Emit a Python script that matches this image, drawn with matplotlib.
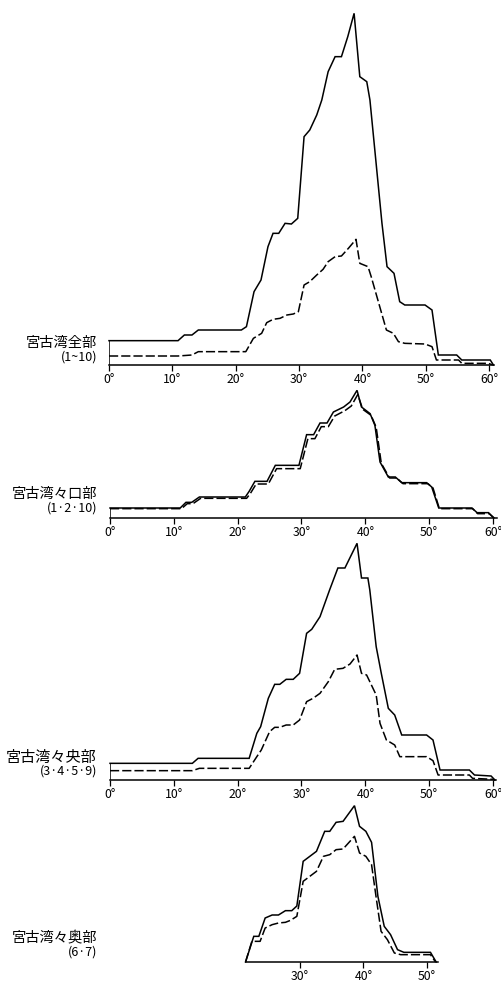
import matplotlib
matplotlib.use("Agg")
import matplotlib.pyplot as plt

plt.rcParams["font.family"] = ["Noto Sans CJK JP", "DejaVu Sans"]

W, H = 502, 981
PX_PER_UNIT = 10 / 3  # vertical scale shared by all four panels

# --- 宮古湾全部 (1~10)
p1_solid_x = [0, 10.9, 11.9, 13.1, 14.1, 20.9, 21.7, 22.9, 24.0, 25.1, 25.9, 26.8, 27.8, 28.8,
              29.8, 30.8, 31.7, 32.8, 33.6, 34.6, 35.7, 36.7, 37.7, 38.7, 39.6, 40.7, 41.2,
              43.1, 43.9, 45.0, 45.9, 46.7, 49.9, 51.0, 52.0, 54.9, 55.7, 60.2, 60.7]
p1_solid_y = [7.3, 7.3, 9.0, 9.0, 10.5, 10.5, 11.5, 22.0, 25.5, 35.5, 39.5, 39.5, 42.5, 42.3,
              44.0, 68.5, 70.5, 75.0, 79.5, 88.0, 92.5, 92.5, 98.5, 105.5, 86.5, 85.0, 79.5,
              42.5, 29.5, 27.5, 19.0, 18.0, 18.0, 16.5, 3.0, 3.0, 1.5, 1.5, 0]
p1_dash_x = [0, 10.9, 13.1, 14.1, 21.6, 22.8, 24.1, 24.9, 25.9, 27.0, 28.1, 29.1, 29.9, 30.8,
             31.7, 32.8, 33.8, 34.6, 35.7, 36.7, 37.8, 39.0, 39.6, 40.9, 41.4, 43.8, 44.9,
             45.7, 46.7, 49.9, 51.0, 51.7, 55.2, 55.7, 59.9, 60.6]
p1_dash_y = [2.7, 2.7, 3.0, 4.0, 4.0, 8.0, 9.5, 12.7, 13.7, 14.0, 15.0, 15.3, 16.0, 24.0,
             25.0, 27.0, 28.7, 31.0, 32.5, 32.7, 35.0, 37.7, 30.5, 29.5, 26.5, 10.5, 9.5,
             7.0, 6.5, 6.3, 5.5, 1.5, 1.5, 0.5, 0.5, 0]

# --- 宮古湾々口部 (1·2·10)
p2_solid_x = [0, 11.0, 11.9, 12.8, 14.0, 21.2, 21.8, 22.7, 24.6, 25.9, 29.6, 30.8, 31.9, 32.9,
              34.0, 35.0, 36.6, 37.6, 38.7, 39.4, 40.75, 41.5, 42.3, 43.6, 44.7, 45.7, 49.6,
              50.4, 51.5, 56.7, 57.5, 59.3, 60.1]
p2_solid_y = [3.0, 3.0, 4.7, 4.7, 6.3, 6.3, 8.0, 11.0, 11.0, 15.8, 15.8, 25.0, 25.0, 28.5,
              28.5, 31.8, 33.3, 34.8, 38.3, 33.3, 31.3, 27.8, 16.8, 12.3, 12.3, 10.6, 10.6,
              9.3, 3.0, 3.0, 1.6, 1.6, 0]
p2_dash_x = [0, 11.2, 12.1, 13.0, 14.2, 21.4, 22.0, 22.9, 24.8, 26.1, 29.8, 31.0, 32.1, 33.1,
             34.2, 35.2, 36.8, 37.8, 38.8, 39.6, 40.9, 41.7, 42.5, 43.8, 44.9, 45.9, 49.8,
             50.6, 51.6, 56.8, 57.6, 59.4, 60.2]
p2_dash_y = [2.8, 2.8, 4.3, 4.3, 5.9, 5.9, 7.4, 10.2, 10.2, 14.8, 14.8, 23.8, 23.8, 27.4,
             27.4, 30.6, 32.2, 33.6, 37.0, 32.6, 30.8, 27.2, 16.4, 12.0, 12.0, 10.3, 10.3,
             9.0, 2.8, 2.8, 1.3, 1.3, 0]

# --- 宮古湾々央部 (3·4·5·9)
p3_solid_x = [0, 12.9, 13.8, 21.8, 23.0, 23.6, 24.8, 25.8, 26.6, 27.6, 28.7, 29.7, 30.8, 31.6,
              32.9, 34.4, 35.7, 36.8, 38.7, 39.4, 40.4, 40.7, 41.7, 42.5, 43.6, 44.6, 45.7,
              49.6, 50.6, 51.7, 56.3, 57.1, 59.7, 60.3]
p3_solid_y = [5.0, 5.0, 6.5, 6.5, 14.0, 16.0, 24.5, 28.7, 28.7, 30.2, 30.2, 32.0, 44.0, 45.2,
              49.0, 57.0, 63.6, 63.6, 71.0, 60.6, 60.6, 57.0, 40.0, 32.0, 21.5, 19.5, 13.5,
              13.5, 12.0, 3.0, 3.0, 1.5, 1.2, 0]
p3_dash_x = [0, 12.9, 14.0, 21.8, 23.0, 23.7, 25.0, 25.8, 26.6, 27.6, 28.7, 29.7, 30.8, 31.8,
             32.9, 34.2, 35.2, 36.5, 37.6, 38.7, 39.4, 40.2, 41.7, 42.3, 43.3, 44.6, 45.4,
             49.6, 50.6, 51.4, 56.3, 56.8, 60.0, 60.3]
p3_dash_y = [2.8, 2.8, 3.5, 3.5, 7.0, 9.0, 14.5, 15.8, 15.8, 16.5, 16.5, 18.0, 23.5, 24.5,
             26.0, 29.5, 33.2, 33.5, 34.8, 37.5, 32.0, 31.5, 25.5, 17.0, 12.0, 10.5, 7.0,
             7.0, 5.8, 1.5, 1.5, 0.5, 0.2, 0]

# --- 宮古湾々奥部 (6·7)
p4_solid_x = [21.4, 22.7, 23.5, 24.5, 25.6, 26.6, 27.7, 28.7, 29.5, 30.5, 32.6, 33.9, 34.7,
              35.7, 36.8, 38.6, 39.4, 40.4, 41.3, 42.3, 43.3, 44.3, 45.4, 46.4, 50.6, 51.5]
p4_solid_y = [0, 7.7, 7.7, 13.2, 14.1, 14.1, 15.4, 15.4, 16.8, 30.2, 33.2, 39.2, 39.2,
              41.9, 42.2, 46.9, 40.7, 39.2, 35.9, 19.7, 10.7, 8.2, 3.7, 2.9, 2.9, 0]
p4_dash_x = [21.4, 22.4, 23.7, 24.5, 25.6, 26.6, 27.7, 28.5, 29.5, 30.5, 32.6, 33.7, 34.7,
             35.7, 36.8, 38.6, 39.4, 40.4, 41.3, 42.0, 42.8, 43.8, 44.9, 45.9, 50.6, 51.4]
p4_dash_y = [0, 6.2, 6.2, 10.2, 11.2, 11.7, 11.9, 12.5, 13.7, 24.2, 27.2, 31.7, 32.2,
             33.7, 33.9, 37.7, 32.7, 31.7, 29.2, 19.7, 9.2, 6.7, 2.7, 2.2, 2.2, 0]

titles = ["宮古湾全部", "宮古湾々口部", "宮古湾々央部", "宮古湾々奥部"]
subtitles = ["(1~10)", "(1·2·10)", "(3·4·5·9)", "(6·7)"]
ticks = [[0, 10, 20, 30, 40, 50, 60]] * 3 + [[30, 40, 50]]
axis_span = [(0, 60.8), (0, 60.6), (0, 60.5), (21.4, 51.8)]

# pixel layout: x of 0°, x of 60°, baseline y, ylim top, title y, title size
layout = [
    (109, 489, 365, 108, 343, 10.3),
    (110, 493, 518, 40, 494, 10.3),
    (110, 493, 780, 73, 757, 10.9),
    (110, 490, 962, 49, 938, 10.3),
]

series = [
    (p1_solid_x, p1_solid_y, p1_dash_x, p1_dash_y),
    (p2_solid_x, p2_solid_y, p2_dash_x, p2_dash_y),
    (p3_solid_x, p3_solid_y, p3_dash_x, p3_dash_y),
    (p4_solid_x, p4_solid_y, p4_dash_x, p4_dash_y),
]

fig = plt.figure(figsize=(W / 100, H / 100), dpi=100)
fig.patch.set_facecolor("white")

for i, (sx, sy, dx, dy) in enumerate(series):
    x0, x60, base, top, ty, tsize = layout[i]
    ax = fig.add_axes([x0 / W, (H - base) / H, (x60 - x0) / W, top * PX_PER_UNIT / H])
    ax.set_xlim(0, 60)
    ax.set_ylim(0, top)
    ax.patch.set_visible(False)
    for side in ("top", "right", "left"):
        ax.spines[side].set_visible(False)
    ax.spines["bottom"].set_bounds(*axis_span[i])
    ax.spines["bottom"].set_linewidth(1.1)
    ax.set_yticks([])
    ax.set_xticks(ticks[i])
    ax.set_xticklabels([f"{t}°" for t in ticks[i]], fontsize=8.8)
    ax.tick_params(axis="x", direction="out", length=4, width=0.9, pad=1.5)

    ax.plot(sx, sy, color="black", lw=1.1, clip_on=False, solid_joinstyle="miter")
    ax.plot(dx, dy, color="black", lw=1.1, linestyle=(0, (6, 2)), clip_on=False)
    if sx[0] == 0:
        ax.vlines(0, 0, sy[0], color="black", lw=1.1)

    fig.text(97 / W, 1 - ty / H, titles[i], ha="right", va="center", fontsize=tsize)
    fig.text(97 / W, 1 - (ty + 14) / H, subtitles[i], ha="right", va="center", fontsize=9)

fig.savefig("out.png", dpi=100, facecolor="white")
